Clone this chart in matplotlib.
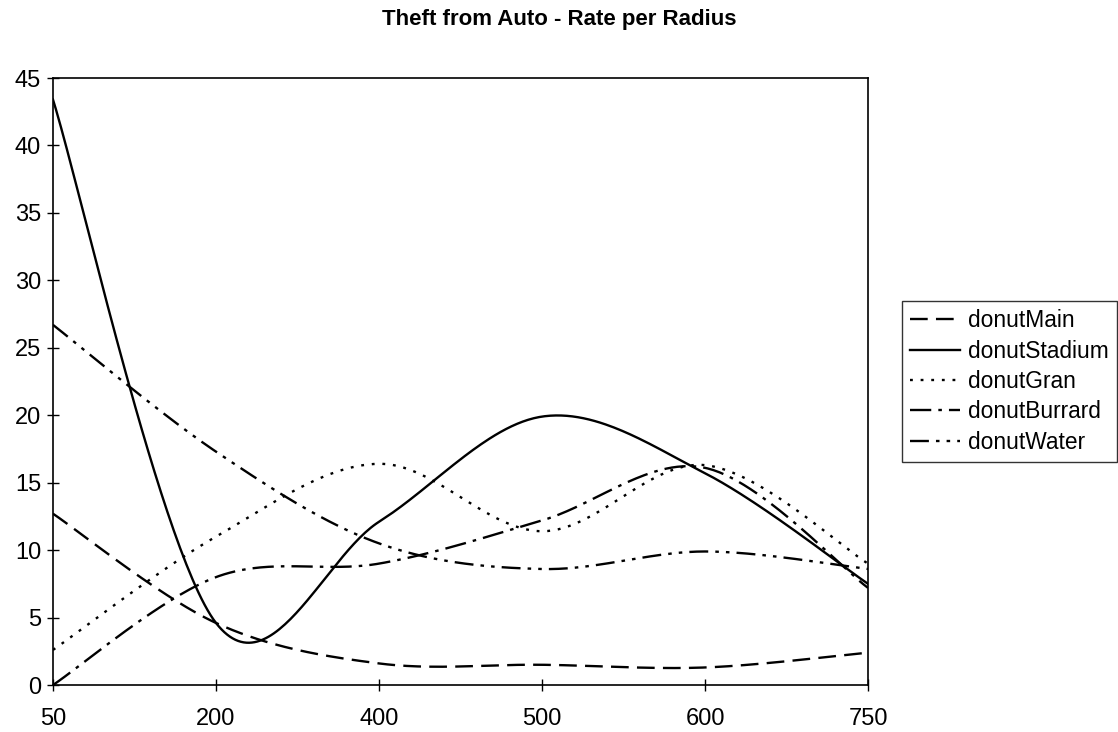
import numpy as np
import matplotlib
matplotlib.use("Agg")
import matplotlib.pyplot as plt

plt.rcParams['font.family'] = ['Liberation Sans', 'DejaVu Sans']

radius = ["50", "200", "400", "500", "600", "750"]
donutMain = [12.7, 4.6, 1.6, 1.5, 1.3, 2.4]
donutStadium = [43.4, 4.6, 12.1, 19.9, 15.7, 7.5]
donutGran = [2.6, 11.0, 16.4, 11.4, 16.3, 9.0]
donutBurrard = [0.0, 8.0, 9.0, 12.2, 16.1, 7.2]
donutWater = [26.7, 17.3, 10.5, 8.6, 9.9, 8.6]

series = [
    ("donutMain", donutMain, (0, (7.5, 3.5))),
    ("donutStadium", donutStadium, "solid"),
    ("donutGran", donutGran, (0, (1.2, 3.3))),
    ("donutBurrard", donutBurrard, (0, (9, 3, 1.5, 3))),
    ("donutWater", donutWater, (0, (8, 3, 1.5, 3, 1.5, 3))),
]


def smooth(vals, n=60):
    """Excel-like smoothed line: cubic Bezier through points with
    Catmull-Rom control points (endpoints duplicated)."""
    y = np.asarray(vals, float)
    x = np.arange(len(y), dtype=float)
    P = np.column_stack([x, y])
    Pe = np.vstack([P[0], P, P[-1]])
    xs, ys = [], []
    for i in range(len(P) - 1):
        p0, p3 = P[i], P[i + 1]
        c1 = p0 + (Pe[i + 2] - Pe[i]) / 6.0
        c2 = p3 - (Pe[i + 3] - Pe[i + 1]) / 6.0
        t = np.linspace(0, 1, n)[:, None]
        b = ((1 - t) ** 3) * p0 + 3 * ((1 - t) ** 2) * t * c1 + 3 * (1 - t) * t ** 2 * c2 + t ** 3 * p3
        xs.append(b[:, 0])
        ys.append(b[:, 1])
    return np.concatenate(xs), np.concatenate(ys)


fig = plt.figure(figsize=(11.18, 7.32), dpi=100)
ax = fig.add_axes([0.0474, 0.0642, 0.7290, 0.8292])

for name, vals, ls in series:
    xs, ys = smooth(vals)
    ax.plot(xs, ys, color="black", linestyle=ls, linewidth=1.7, label=name)

ax.set_xlim(0, len(radius) - 1)
ax.set_ylim(0, 45)
ax.set_xticks(range(len(radius)))
ax.set_xticklabels(radius)
ax.set_yticks(np.arange(0, 46, 5))
ax.tick_params(axis="both", direction="inout", length=9, width=1, labelsize=17)
ax.tick_params(axis="x", pad=12)
ax.tick_params(axis="y", pad=4)
for s in ax.spines.values():
    s.set_linewidth(1.2)

fig.text(0.5, 0.973, "Theft from Auto - Rate per Radius", ha="center", va="center",
         fontsize=16, fontweight="bold")

leg = ax.legend(loc="center left", bbox_to_anchor=(1.042, 0.5), frameon=True,
                fancybox=False, edgecolor="black", fontsize=16.4, handlelength=2.2,
                handletextpad=0.35, borderpad=0.35, labelspacing=0.32, borderaxespad=0)
leg.get_frame().set_linewidth(1.0)

fig.savefig("out.png", dpi=100)
